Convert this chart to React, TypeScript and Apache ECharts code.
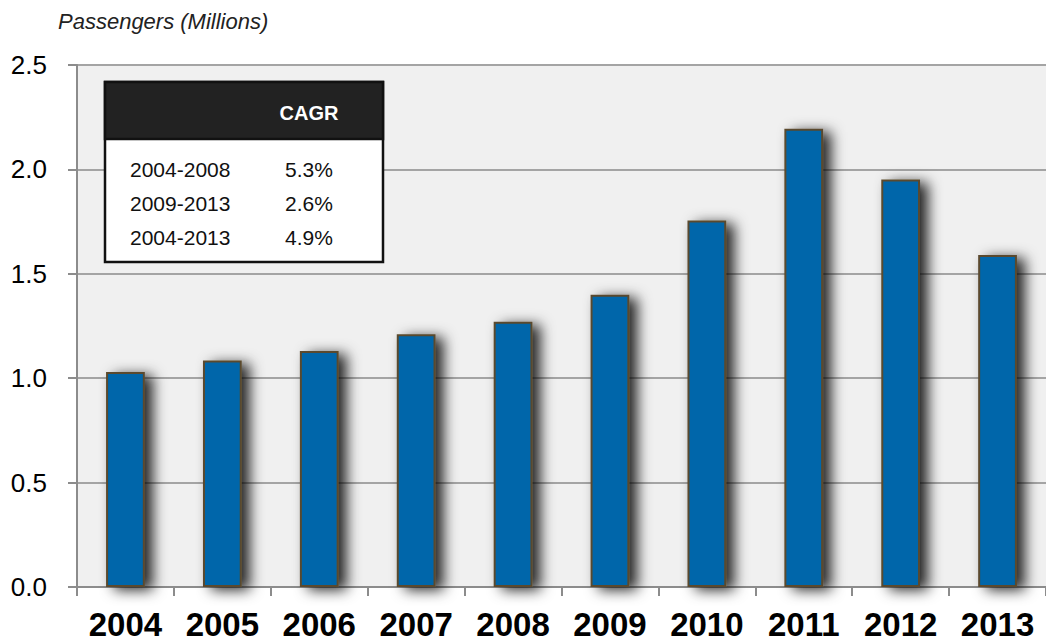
import React, { useEffect, useRef } from "react";
import * as echarts from "echarts";

const years = ["2004", "2005", "2006", "2007", "2008", "2009", "2010", "2011", "2012", "2013"];
const passengers = [1.03, 1.085, 1.13, 1.21, 1.27, 1.4, 1.755, 2.195, 1.952, 1.59];
const cagrPeriods = ["2004-2008", "2009-2013", "2004-2013"];
const cagrValues = ["5.3%", "2.6%", "4.9%"];

export default function App() {
  const ref = useRef<HTMLDivElement>(null);
  useEffect(() => {
    if (!ref.current) return;
    const chart = echarts.init(ref.current, null, { renderer: "svg" });
    const font = "Liberation Sans, Arial, Helvetica, sans-serif";
    const rowY = [169, 203, 237];
    const tableTexts: any[] = [];
    cagrPeriods.forEach((p, i) => {
      tableTexts.push({
        type: "text",
        x: 130,
        y: rowY[i],
        style: {
          text: p,
          fontSize: 21,
          fontFamily: font,
          fill: "#111",
          verticalAlign: "middle",
        },
      });
      tableTexts.push({
        type: "text",
        x: 285,
        y: rowY[i],
        style: {
          text: cagrValues[i],
          fontSize: 21,
          fontFamily: font,
          fill: "#111",
          verticalAlign: "middle",
        },
      });
    });
    chart.setOption({
      animation: false,
      backgroundColor: "#ffffff",
      grid: {
        left: 77,
        top: 65,
        bottom: 57,
        right: -2,
        show: true,
        backgroundColor: "#f0f0f0",
        borderWidth: 0,
      },
      xAxis: {
        type: "category",
        data: years,
        boundaryGap: true,
        axisLine: { lineStyle: { color: "#8c8c8c", width: 2 } },
        axisTick: { show: true, length: 9, lineStyle: { color: "#8c8c8c", width: 2 } },
        axisLabel: {
          margin: 21,
          color: "#000",
          fontSize: 33,
          fontWeight: "bold",
          fontFamily: font,
        },
      },
      yAxis: {
        type: "value",
        min: 0,
        max: 2.5,
        interval: 0.5,
        axisLine: { show: true, lineStyle: { color: "#8c8c8c", width: 2 } },
        axisTick: { show: true, length: 9, lineStyle: { color: "#8c8c8c", width: 2 } },
        splitLine: { show: true, lineStyle: { color: "#a4a4a4", width: 2 } },
        axisLabel: {
          margin: 30,
          color: "#000",
          fontSize: 26,
          fontFamily: font,
          formatter: (v: number) => v.toFixed(1),
        },
      },
      series: [
        {
          type: "bar",
          data: passengers,
          barWidth: "40%",
          itemStyle: {
            color: "#0066aa",
            borderColor: "#5a4a2e",
            borderWidth: 2,
            shadowColor: "rgba(0,0,0,0.85)",
            shadowBlur: 14,
            shadowOffsetX: 8,
            shadowOffsetY: 3,
          },
        },
      ],
      graphic: [
        {
          type: "text",
          x: 58,
          y: 21,
          style: {
            text: "Passengers (Millions)",
            fontSize: 22,
            fontStyle: "italic",
            fontFamily: font,
            fill: "#222",
            verticalAlign: "middle",
          },
        },
        {
          type: "rect",
          shape: { x: 105, y: 82, width: 278, height: 180 },
          style: { fill: "#ffffff", stroke: "#111", lineWidth: 2.5 },
          z: 10,
        },
        {
          type: "rect",
          shape: { x: 105, y: 82, width: 278, height: 57 },
          style: { fill: "#222222", stroke: "#111", lineWidth: 2.5 },
          z: 11,
        },
        {
          type: "text",
          x: 309,
          y: 113,
          style: {
            text: "CAGR",
            fontSize: 20,
            fontWeight: "bold",
            fontFamily: font,
            fill: "#ffffff",
            align: "center",
            verticalAlign: "middle",
          },
          z: 12,
        },
        ...tableTexts.map((t) => ({ ...t, z: 12 })),
      ],
    });
    return () => chart.dispose();
  }, []);
  return (
    <div
      ref={ref}
      style={{ position: "fixed", left: 0, top: 0, width: 1046, height: 644 }}
    />
  );
}
